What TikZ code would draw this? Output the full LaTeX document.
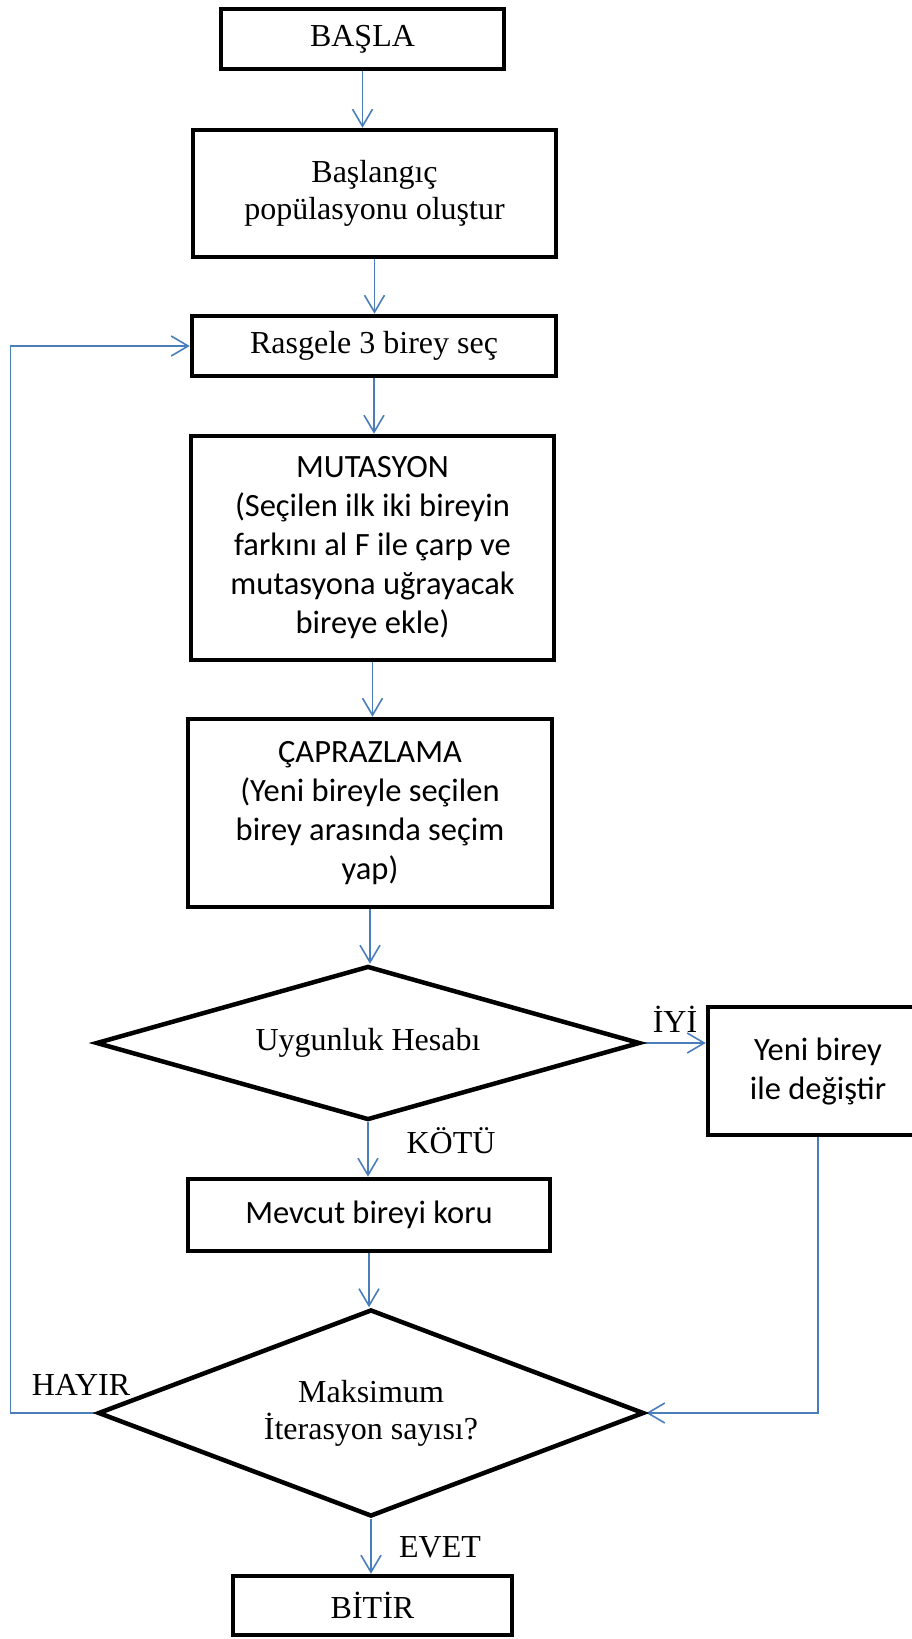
\documentclass[tikz,border=0pt]{standalone}
\usepackage{fontspec}
\setmainfont{Liberation Serif}
\newfontfamily\calibri{Carlito}
\usetikzlibrary{arrows.meta}
\usetikzlibrary{shapes.geometric}
\pgfdeclarelayer{edgelayer}
\pgfdeclarelayer{nodelayer}
\pgfsetlayers{edgelayer,nodelayer,main}
\definecolor{flowblue}{RGB}{74,126,187}
\tikzstyle{none}=[inner sep=0pt]
\tikzstyle{serif_box}=[draw=black,line width=4.5pt,fill=white,align=center,inner sep=0pt,font=\fontsize{32}{37}\selectfont]
\tikzstyle{sans_box}=[draw=black,line width=4.5pt,fill=white,align=center,inner sep=0pt,font=\calibri\fontsize{32.5}{39}\selectfont]
\tikzstyle{decision}=[diamond,aspect=2.6,draw=black,line width=4.5pt,fill=white,align=center,inner sep=0pt,font=\fontsize{32}{37}\selectfont]
\tikzstyle{branch}=[anchor=base,inner sep=0pt,font=\fontsize{32}{37}\selectfont]
\tikzstyle{transition}=[-{Straight Barb[length=17pt,width=20pt]},draw=flowblue,line width=1.6pt]

\begin{document}
\begin{tikzpicture}[x=1pt,y=-1pt]
	\useasboundingbox (0, 0) rectangle (911, 1639);
	\begin{pgfonlayer}{nodelayer}
		\node [style={serif_box}, minimum width=283, minimum height=60] (0) at (362.5, 39) {BAŞLA};
		\node [style={serif_box}, minimum width=363, minimum height=127] (1) at (374.5, 193.5) {Başlangıç\\popülasyonu oluştur};
		\node [style={serif_box}, minimum width=364, minimum height=60] (2) at (374, 346) {Rasgele 3 birey seç};
		\node [style={sans_box}, minimum width=363, minimum height=224] (3) at (372.5, 548) {MUTASYON\\(Seçilen ilk iki bireyin\\farkını al F ile çarp ve\\mutasyona uğrayacak\\bireye ekle)};
		\node [style={sans_box}, minimum width=364, minimum height=188] (4) at (370, 813) {ÇAPRAZLAMA\\(Yeni bireyle seçilen\\birey arasında seçim\\yap)};
		\node [style=decision, aspect=3.5, minimum width=544, minimum height=154] (5) at (368, 1043) {Uygunluk Hesabı};
		\node [style={sans_box}, minimum width=220, minimum height=128] (6) at (818, 1071) {Yeni birey\\ile değiştir};
		\node [style={sans_box}, minimum width=362, minimum height=72] (7) at (369, 1215) {Mevcut bireyi koru};
		\node [style=decision, minimum width=546, minimum height=207] (8) at (371, 1413) {Maksimum\\İterasyon sayısı?};
		\node [style={serif_box}, minimum width=279, minimum height=59] (9) at (372.5, 1605.5) {BİTİR};
		\node [style=branch] (10) at (675, 1032) {İYİ};
		\node [style=branch] (11) at (451, 1153) {KÖTÜ};
		\node [style=branch] (12) at (81, 1395) {HAYIR};
		\node [style=branch] (13) at (440, 1557) {EVET};
		\coordinate (14) at (10.5, 880);
	\end{pgfonlayer}
	\begin{pgfonlayer}{edgelayer}
		\draw [style=transition] (0.south) -- (0.south |- 1.north);
		\draw [style=transition] (1.south) -- (1.south |- 2.north);
		\draw [style=transition] (2.south) -- (2.south |- 3.north);
		\draw [style=transition] (3.south) -- (3.south |- 4.north);
		\draw [style=transition] (4.south) -- (4.south |- 5.north);
		\draw [style=transition] (5.east) -- (5.east -| 6.west);
		\draw [style=transition] (5.south) -- (5.south |- 7.north);
		\draw [style=transition] (7.south) -- (7.south |- 8.north);
		\draw [style=transition] (6) |- (8);
		\draw [style=transition] (8) -| (14) |- (2);
		\draw [style=transition] (8.south) -- (8.south |- 9.north);
	\end{pgfonlayer}
\end{tikzpicture}
\end{document}
